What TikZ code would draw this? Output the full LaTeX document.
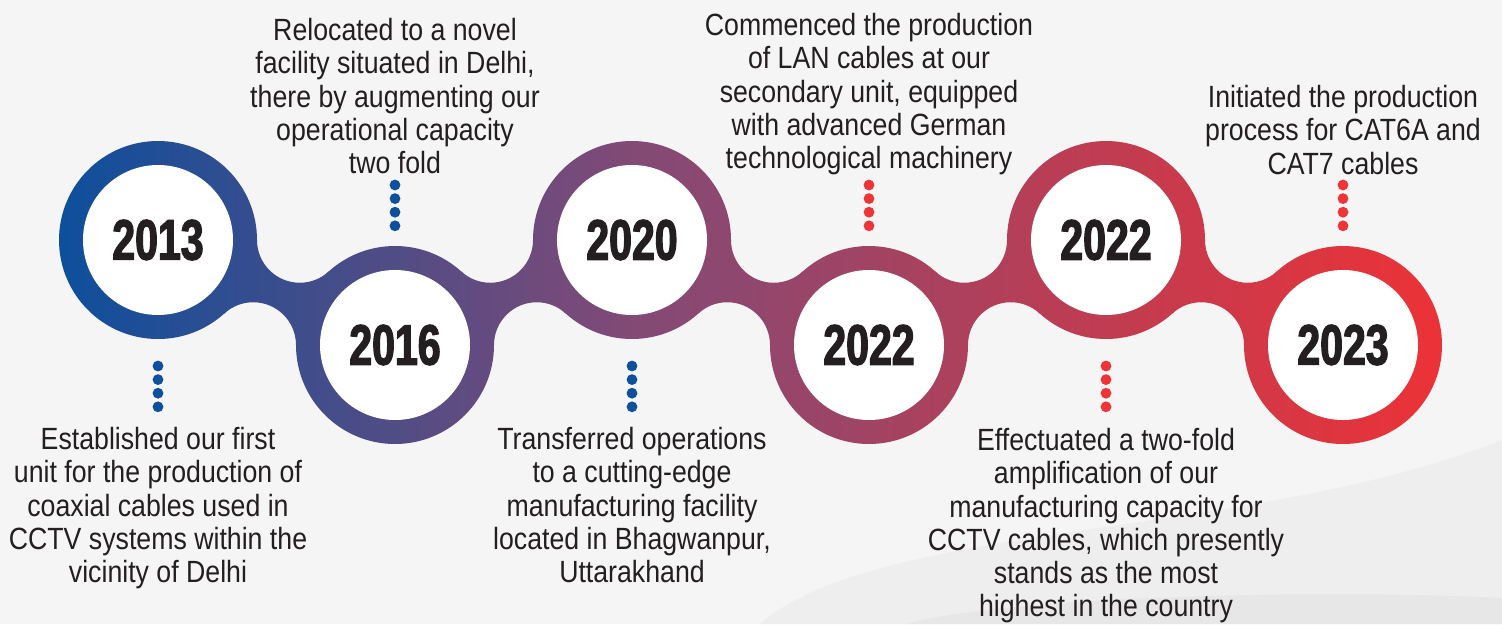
\documentclass[tikz,border=0pt]{standalone}
\usepackage{fontspec}
\setmainfont[FakeStretch=0.87]{Liberation Sans}
\newfontfamily\yearfont[FakeStretch=0.72,FakeBold=2.2]{Liberation Sans Bold}

\definecolor{tlblue}{HTML}{0D4F9C}
\definecolor{tlmid}{HTML}{834A75}
\definecolor{tlred}{HTML}{EC3237}
\definecolor{tlink}{HTML}{231F20}
\definecolor{bgmain}{HTML}{F5F5F5}
\definecolor{bgwave}{HTML}{EEEEEE}
\definecolor{bgband}{HTML}{E7E7E7}
\definecolor{dotblue}{HTML}{0E509B}
\definecolor{dotred}{HTML}{EE3437}

\pgfdeclarehorizontalshading{tlgrad}{100bp}{color(0bp)=(tlblue); color(25bp)=(tlblue); color(46bp)=(tlmid); color(75bp)=(tlred); color(100bp)=(tlred)}

\tikzset{
    yearring/.style={circle, fill=white, minimum size=150, inner sep=0, text=tlink, font=\yearfont\fontsize{57}{57}\selectfont},
    note/.style={anchor=north, align=center, inner sep=0, text=tlink, font=\fontsize{30.7}{33.3}\selectfont}
}

\begin{document}
\begin{tikzpicture}[x=1pt, y=-1pt]
                \useasboundingbox (0,0) rectangle (1502,624);
                \fill[bgmain] (0,0) rectangle (1502,624);
                \fill[bgwave] (760,624) .. controls (880,520) and (1250,540) .. (1502,440) -- (1502,624) -- cycle;
                \fill[bgband] (905,624) .. controls (1000,598) and (1300,588) .. (1502,598) -- (1502,624) -- cycle;

                \foreach \x/\y/\s in {158/240/1, 395/345/-1, 632/240/1, 869/345/-1, 1106/240/1}
                    {
                        \begin{scope}
                            \clip[shift={(\x,\y)}, yscale=\s] (0,0) -- (99,0)
                                arc[start angle=180, end angle=47.79, radius=42.76] -- (237,105) -- (138,105)
                                arc[start angle=0, end angle=-132.21, radius=42.76] -- cycle;
                            \shade[shading=tlgrad] (58,0) rectangle (1442,624);
                        \end{scope}
                    }
                \foreach \x/\y in {158/240, 395/345, 632/240, 869/345, 1106/240, 1343/345}
                    {
                        \begin{scope}
                            \clip (\x,\y) circle[radius=99];
                            \shade[shading=tlgrad] (58,0) rectangle (1442,624);
                        \end{scope}
                    }

                \node[yearring] (y2013) at (158,240) {2013};
                \node[yearring] (y2016) at (395,345) {2016};
                \node[yearring] (y2020) at (632,240) {2020};
                \node[yearring] (y2022a) at (869,345) {2022};
                \node[yearring] (y2022b) at (1106,240) {2022};
                \node[yearring] (y2023) at (1343,345) {2023};

                \foreach \x/\y/\c in {158/366/dotblue, 395/185/dotblue, 632/366/dotblue, 869/185/dotred, 1106/366/dotred, 1343/185/dotred}
                    {
                        \foreach \k in {0,...,3}
                            \fill[\c] (\x,\y+13.6*\k) circle[radius=5.4];
                    }

                \node[note] (t2013) at (158,427) {Established our first\\unit for the production of\\coaxial cables used in\\CCTV systems within the\\vicinity of Delhi};
                \node[note] (t2016) at (395,18) {Relocated to a novel\\facility situated in Delhi,\\there by augmenting our\\operational capacity\\two fold};
                \node[note] (t2020) at (632,427) {Transferred operations\\to a cutting-edge\\manufacturing facility\\located in Bhagwanpur,\\Uttarakhand};
                \node[note] (t2022a) at (869,13) {Commenced the production\\of LAN cables at our\\secondary unit, equipped\\with advanced German\\technological machinery};
                \node[note] (t2022b) at (1106,428) {Effectuated a two-fold\\amplification of our\\manufacturing capacity for\\CCTV cables, which presently\\stands as the most\\highest in the country};
                \node[note] (t2023) at (1343,85) {Initiated the production\\process for CAT6A and\\CAT7 cables};
            \end{tikzpicture}
\end{document}
